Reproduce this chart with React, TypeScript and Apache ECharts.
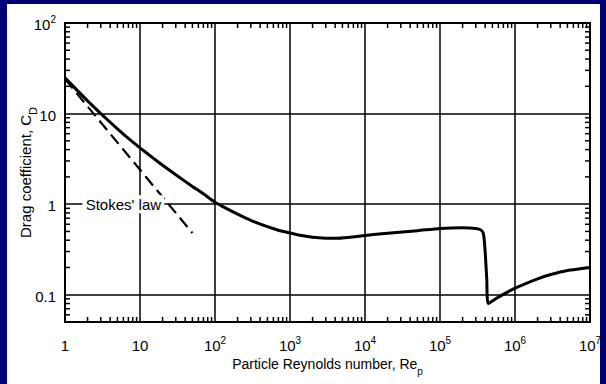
import React, { useEffect, useRef } from "react";
import * as echarts from "echarts";

// Standard drag curve for a sphere
const reynolds = [1, 1.5, 2, 3, 5, 7, 10, 15, 20, 30, 50, 70, 100, 150, 200, 300, 500, 700, 1000, 1500, 2000, 3000, 4000, 6000, 1e4, 2e4, 5e4, 1e5, 2e5, 3e5, 3.5e5, 3.8e5, 4e5, 4.2e5, 4.4e5, 6e5, 1e6, 2e6, 3e6, 5e6, 1e7];
const dragCoeff = [24.8, 17.6, 13.8, 10.0, 6.78, 5.32, 4.18, 3.22, 2.69, 2.11, 1.57, 1.3, 1.05, 0.875, 0.775, 0.664, 0.564, 0.516, 0.481, 0.447, 0.432, 0.421, 0.419, 0.428, 0.45, 0.478, 0.51, 0.54, 0.55, 0.54, 0.52, 0.47, 0.3, 0.15, 0.08, 0.094, 0.118, 0.15, 0.167, 0.185, 0.2];

// Stokes' law, C_D = 24 / Re
const stokesRe = [1, 50];
const stokesCd = [24, 0.48];

const stokesLabel = "Stokes' law";
const stokesLabelAt = [6, 1];

const xTitle = "Particle Reynolds number, Re";
const xTitleSub = "p";
const yTitle = "Drag coefficient, C";
const yTitleSub = "D";

const xMin = 1;
const xMax = 1e7;
const yMin = 0.05;
const yMax = 100;

// Minor (2..9) log ticks along each axis
const xMinorTicks = [2, 3, 4, 5, 6, 7, 8, 9, 20, 30, 40, 50, 60, 70, 80, 90, 200, 300, 400, 500, 600, 700, 800, 900, 2e3, 3e3, 4e3, 5e3, 6e3, 7e3, 8e3, 9e3, 2e4, 3e4, 4e4, 5e4, 6e4, 7e4, 8e4, 9e4, 2e5, 3e5, 4e5, 5e5, 6e5, 7e5, 8e5, 9e5, 2e6, 3e6, 4e6, 5e6, 6e6, 7e6, 8e6, 9e6];
const yMinorTicks = [0.06, 0.07, 0.08, 0.09, 0.2, 0.3, 0.4, 0.5, 0.6, 0.7, 0.8, 0.9, 2, 3, 4, 5, 6, 7, 8, 9, 20, 30, 40, 50, 60, 70, 80, 90];

const FONT = "'Liberation Sans', Arial, Helvetica, sans-serif";
const INK = "#000";

function decadeLabel(v: number): string {
  const lg = Math.log10(v);
  const e = Math.round(lg);
  if (Math.abs(lg - e) > 1e-6) return "";
  if (e === 0) return "{n|1}";
  if (e === 1) return "{n|10}";
  if (e === -1) return "{n|0.1}";
  return `{n|10}{s|${e}}`;
}

const labelRich = {
  n: { fontSize: 15, fontFamily: FONT, color: INK, lineHeight: 18, verticalAlign: "bottom" },
  s: { fontSize: 10, fontFamily: FONT, color: INK, lineHeight: 10, verticalAlign: "top" },
};

const TICK = 5;

export default function App() {
  const ref = useRef<HTMLDivElement>(null);

  useEffect(() => {
    if (!ref.current) return;
    const chart = echarts.init(ref.current, undefined, { renderer: "svg" });

    const curve = reynolds.map((r, i) => [r, dragCoeff[i]]);
    const stokes = stokesRe.map((r, i) => [r, stokesCd[i]]);

    chart.setOption({
      animation: false,
      backgroundColor: "#ffffff",
      grid: {
        left: 58,
        top: 19,
        right: 10,
        bottom: 62,
        containLabel: false,
        outerBoundsMode: "none",
        show: true,
        borderColor: INK,
        borderWidth: 2,
        backgroundColor: "transparent",
      },
      xAxis: {
        type: "log",
        logBase: 10,
        min: xMin,
        max: xMax,
        axisLine: { show: false },
        axisTick: { show: false },
        splitLine: { show: true, lineStyle: { color: INK, width: 1.5 } },
        axisLabel: {
          margin: 13,
          formatter: (v: number) => decadeLabel(v),
          rich: labelRich,
        },
        name: `{t|${xTitle}}{u|${xTitleSub}}`,
        nameLocation: "middle",
        nameGap: 35,
        nameMoveOverlap: false,
        nameTextStyle: {
          rich: {
            t: { fontSize: 14, fontFamily: FONT, color: INK, lineHeight: 16, verticalAlign: "top" },
            u: { fontSize: 10, fontFamily: FONT, color: INK, lineHeight: 10, padding: [9, 0, 0, 0], verticalAlign: "top" },
          },
        },
      },
      yAxis: {
        type: "log",
        logBase: 10,
        min: yMin,
        max: yMax,
        axisLine: { show: false },
        axisTick: { show: false },
        splitLine: { show: true, lineStyle: { color: INK, width: 1.5 } },
        axisLabel: {
          margin: 9,
          formatter: (v: number) => decadeLabel(v),
          rich: labelRich,
        },
        name: `{t|${yTitle}}{u|${yTitleSub}}`,
        nameLocation: "middle",
        nameGap: 30,
        nameMoveOverlap: false,
        nameTextStyle: {
          rich: {
            t: { fontSize: 15, fontFamily: FONT, color: INK, lineHeight: 17, verticalAlign: "top" },
            u: { fontSize: 11, fontFamily: FONT, color: INK, lineHeight: 11, padding: [9, 0, 0, 0], verticalAlign: "top" },
          },
        },
      },
      series: [
        {
          type: "custom",
          silent: true,
          data: xMinorTicks.map((v) => [v, yMin]),
          renderItem: (params: any, api: any) => {
            const v = api.value(0);
            const b = api.coord([v, yMin]);
            const t = api.coord([v, yMax]);
            const style = { stroke: INK, lineWidth: 1.5 };
            return {
              type: "group",
              children: [
                { type: "line", shape: { x1: b[0], y1: b[1], x2: b[0], y2: b[1] - TICK }, style },
                { type: "line", shape: { x1: t[0], y1: t[1], x2: t[0], y2: t[1] + TICK }, style },
              ],
            };
          },
          z: 3,
        },
        {
          type: "custom",
          silent: true,
          data: yMinorTicks.map((v) => [xMin, v]),
          renderItem: (params: any, api: any) => {
            const v = api.value(1);
            const l = api.coord([xMin, v]);
            const r = api.coord([xMax, v]);
            const style = { stroke: INK, lineWidth: 1.5 };
            return {
              type: "group",
              children: [
                { type: "line", shape: { x1: l[0], y1: l[1], x2: l[0] + TICK, y2: l[1] }, style },
                { type: "line", shape: { x1: r[0], y1: r[1], x2: r[0] - TICK, y2: r[1] }, style },
              ],
            };
          },
          z: 3,
        },
        {
          type: "line",
          data: stokes,
          showSymbol: false,
          symbol: "none",
          lineStyle: { color: INK, width: 2.2, type: [12, 6] },
          z: 4,
        },
        {
          type: "line",
          data: curve,
          showSymbol: false,
          symbol: "none",
          smooth: 0.2,
          lineStyle: { color: INK, width: 3, join: "round" },
          z: 5,
        },
        {
          // annotation sitting on the C_D = 1 grid line, masking it
          type: "custom",
          silent: true,
          data: [stokesLabelAt],
          renderItem: (params: any, api: any) => {
            const p = api.coord([api.value(0), api.value(1)]);
            const w = 82;
            const h = 18;
            return {
              type: "group",
              children: [
                { type: "rect", shape: { x: p[0] - w / 2, y: p[1] - h / 2, width: w, height: h }, style: { fill: "#ffffff" } },
                {
                  type: "text",
                  x: p[0],
                  y: p[1],
                  style: {
                    text: stokesLabel,
                    fill: INK,
                    fontSize: 15,
                    fontFamily: FONT,
                    align: "center",
                    verticalAlign: "middle",
                  },
                },
              ],
            };
          },
          z: 6,
        },
      ],
    });

    return () => chart.dispose();
  }, []);

  return (
    <div
      style={{
        position: "fixed",
        left: 0,
        top: 0,
        width: 606,
        height: 384,
        background: "#000072",
      }}
    >
      <div
        ref={ref}
        style={{ position: "absolute", left: 7, top: 4, width: 593, height: 380 }}
      />
    </div>
  );
}
